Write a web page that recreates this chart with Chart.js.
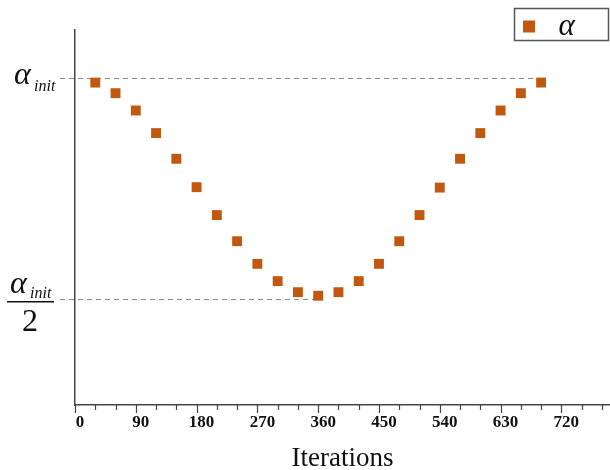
<!DOCTYPE html>
<html>
<head>
<meta charset="utf-8">
<script src="https://cdn.jsdelivr.net/npm/chart.js@4/dist/chart.umd.min.js"></script>
<style>
  html, body { margin: 0; padding: 0; background: #ffffff; }
  #wrap { width: 610px; height: 470px; position: relative; }
</style>
</head>
<body>
<div id="wrap"><canvas id="c" width="610" height="470"></canvas></div>
<script>
// ---- data ----
const iterations = [30, 60, 90, 120, 150, 180, 210, 240, 270, 300, 330, 360,
                    390, 420, 450, 480, 510, 540, 570, 600, 630, 660, 690];
const alphaValues = [0.989, 0.965, 0.926, 0.875, 0.817, 0.753, 0.690, 0.631, 0.580, 0.541, 0.516, 0.508,
                     0.516, 0.541, 0.580, 0.631, 0.690, 0.752, 0.817, 0.875, 0.926, 0.965, 0.989];
const xTickValues = [0, 90, 180, 270, 360, 450, 540, 630, 720];
const xMinorStep = 30;
const seriesLabel = 'α';
const xAxisTitle = 'Iterations';
const yRefValues = [1, 0.5];          // α_init and α_init / 2
const yRefLabelBase = 'α';
const yRefLabelSub = 'init';
const yRefDenominator = '2';
// x value where each reference dashed line ends
const yRefLineEnds = [690, 360];

const markerColor = '#c0580f';

const points = iterations.map((x, i) => ({ x: x, y: alphaValues[i] }));

const decorPlugin = {
  id: 'decor',
  afterLayout(chart) {
    const lg = chart.legend;
    if (!lg) return;
    // place the legend in the top-right corner, above the plot
    const w = lg.right - lg.left, h = lg.bottom - lg.top;
    lg.left = 507; lg.right = 507 + w;
    lg.top = 3; lg.bottom = 3 + h;
  },
  beforeDatasetsDraw(chart) {
    const ctx = chart.ctx;
    const xs = chart.scales.x, ys = chart.scales.y;
    ctx.save();
    ctx.strokeStyle = '#8a8a8a';
    ctx.lineWidth = 1;
    ctx.setLineDash([5, 4]);
    yRefValues.forEach((v, i) => {
      const y = Math.round(ys.getPixelForValue(v)) + 0.5;
      ctx.beginPath();
      ctx.moveTo(60, y);
      ctx.lineTo(xs.getPixelForValue(yRefLineEnds[i]), y);
      ctx.stroke();
    });
    ctx.restore();
  },
  afterDraw(chart) {
    const ctx = chart.ctx;
    const xs = chart.scales.x, ys = chart.scales.y;
    ctx.save();
    ctx.strokeStyle = '#444';
    // x axis tick marks (major + minor)
    ctx.lineWidth = 1.2;
    const yb = xs.top;
    for (let v = 0; v <= xs.max; v += xMinorStep) {
      const px = Math.round(xs.getPixelForValue(v)) + 0.5;
      const len = (v % 90 === 0) ? 8 : 5;
      ctx.beginPath();
      ctx.moveTo(px, yb);
      ctx.lineTo(px, yb + len);
      ctx.stroke();
    }
    // y reference labels
    ctx.fillStyle = '#111';
    ctx.textBaseline = 'alphabetic';
    ctx.textAlign = 'left';
    const y1 = ys.getPixelForValue(yRefValues[0]);
    ctx.font = 'italic 32px "Liberation Serif"';
    ctx.fillText(yRefLabelBase, 14, y1 + 6);
    ctx.font = 'italic 16px "Liberation Serif"';
    ctx.fillText(yRefLabelSub, 34, y1 + 13);

    const y2 = ys.getPixelForValue(yRefValues[1]);
    ctx.font = 'italic 32px "Liberation Serif"';
    ctx.fillText(yRefLabelBase, 10, y2 - 6);
    ctx.font = 'italic 16px "Liberation Serif"';
    ctx.fillText(yRefLabelSub, 30, y2 - 1);
    ctx.strokeStyle = '#111';
    ctx.lineWidth = 1.5;
    ctx.beginPath();
    ctx.moveTo(7, y2 + 2.5);
    ctx.lineTo(54, y2 + 2.5);
    ctx.stroke();
    ctx.font = '32px "Liberation Serif"';
    ctx.textAlign = 'center';
    ctx.fillText(yRefDenominator, 30, y2 + 32);

    // legend border
    const lg = chart.legend;
    if (lg) {
      ctx.strokeStyle = '#555';
      ctx.lineWidth = 1.5;
      ctx.strokeRect(514.5, 8.5, 94, 32);
    }
    ctx.restore();
  }
};

new Chart(document.getElementById('c'), {
  type: 'scatter',
  data: {
    datasets: [{
      label: seriesLabel,
      data: points,
      pointStyle: 'rect',
      pointRadius: 7,
      pointHoverRadius: 7,
      backgroundColor: markerColor,
      borderColor: markerColor,
      borderWidth: 0
    }]
  },
  options: {
    responsive: false,
    animation: false,
    devicePixelRatio: 1,
    layout: { autoPadding: false, padding: { top: 30, right: 0, left: 0, bottom: 0 } },
    plugins: {
      tooltip: { enabled: false },
      legend: {
        position: 'chartArea',
        align: 'start',
        labels: {
          usePointStyle: true,
          pointStyle: 'rect',
          boxWidth: 28,
          boxHeight: 12,
          padding: 8,
          color: '#111',
          font: { family: '"Liberation Serif"', style: 'italic', size: 31 }
        }
      }
    },
    scales: {
      x: {
        type: 'linear',
        min: 0,
        max: 792,
        afterBuildTicks(scale) { scale.ticks = xTickValues.map(v => ({ value: v })); },
        afterFit(scale) { scale.height = 65; },
        grid: { display: false, drawTicks: false },
        border: { display: true, color: '#444', width: 1.5 },
        ticks: {
          padding: 7,
          labelOffset: 5,
          maxRotation: 0,
          autoSkip: false,
          color: '#111',
          font: { family: '"Liberation Serif"', weight: 'bold', size: 17 }
        },
        title: {
          display: true,
          text: xAxisTitle,
          color: '#111',
          padding: { top: 0, bottom: -5 },
          font: { family: '"Liberation Serif"', size: 27 }
        }
      },
      y: {
        type: 'linear',
        min: 0.2615,
        max: 1.1076,
        afterFit(scale) { scale.width = 75; },
        grid: { display: false, drawTicks: false },
        border: { display: true, color: '#444', width: 1.5 },
        ticks: { display: false }
      }
    }
  },
  plugins: [decorPlugin]
});
</script>
</body>
</html>
